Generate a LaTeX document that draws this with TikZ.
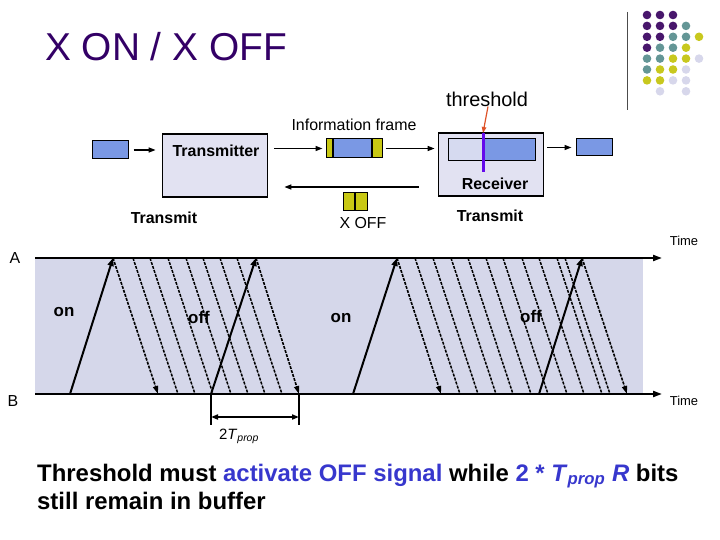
\documentclass[tikz,border=0pt]{standalone}
\usepackage{fontspec}
\setmainfont{Liberation Sans}
\usetikzlibrary{arrows.meta, positioning, calc}
\definecolor{titlepurple}{RGB}{51, 0, 102}
\definecolor{pktblue}{RGB}{122, 152, 228}
\definecolor{boxfill}{RGB}{226, 226, 242}
\definecolor{buflight}{RGB}{214, 218, 240}
\definecolor{ctrlyellow}{RGB}{200, 200, 20}
\definecolor{thrviolet}{RGB}{100, 10, 235}
\definecolor{thrred}{RGB}{222, 82, 40}
\definecolor{lineshade}{RGB}{213, 215, 234}
\definecolor{noteblue}{RGB}{55, 55, 205}
\definecolor{dotP}{RGB}{72, 22, 108}
\definecolor{dotT}{RGB}{100, 150, 150}
\definecolor{dotY}{RGB}{200, 200, 30}
\definecolor{dotL}{RGB}{215, 215, 235}
\newcommand{\fsz}[1]{\fontsize{#1}{#1}\selectfont}

\begin{document}
\begin{tikzpicture}[x=1bp, y=-1bp,
  box/.style={draw, line width=1.8bp, fill=boxfill, minimum width=105bp, minimum height=63bp, inner sep=0},
  pkt/.style={draw, line width=1bp, fill=pktblue, inner sep=0},
  ctrl/.style={draw, line width=1bp, fill=ctrlyellow, inner sep=0, minimum width=11.5bp, minimum height=18bp},
  flow/.style={line width=1.4bp, -{Triangle[length=7bp,width=5bp]}},
  lab/.style={font=\fsz{16}\bfseries, inner sep=0},
  txt/.style={font=\fsz{16}, inner sep=0},
  axis/.style={line width=2bp, -{Triangle[length=9bp,width=6bp]}},
  sig/.style={line width=2bp, -{Triangle[length=8bp,width=6bp]}},
  ack/.style={line width=1.6bp, dash pattern=on 3bp off 1.2bp, -{Triangle[length=8bp,width=5bp]}},
  dat/.style={line width=1.5bp, dash pattern=on 3bp off 1.2bp},
  state/.style={font=\fsz{17}\bfseries, inner sep=0}]
  \useasboundingbox (0,0) rectangle (720,540);

  % title and logo
  \node[anchor=base west, font=\fsz{39}, text=titlepurple, inner sep=0] (title) at (45,61) {X ON / X OFF};
  \draw[line width=1bp, black!70] (627,12) -- (627,110);
  \foreach \dotrow [count=\r from 0] in {{dotP,dotP,dotP,none,none},{dotP,dotP,dotP,dotT,none},{dotP,dotP,dotT,dotT,dotY},{dotP,dotT,dotT,dotY,none},{dotT,dotT,dotY,dotY,dotL},{dotT,dotY,dotY,dotL,none},{dotY,dotY,dotL,dotL,none},{none,dotL,none,dotL,none}}
    \foreach \c [count=\k from 0] in \dotrow
      \fill[fill=\c] ({647+13*\k},{15+10.9*\r}) circle[radius=4.3bp];

  % block diagram
  \node[pkt, minimum width=36bp, minimum height=18bp] (src) at (110,150) {};
  \node[box] (tx) at (215,165.5) {};
  \node[lab] (txlab) at ($(tx.north)+(1,18)$) {Transmitter};
  \node[pkt, minimum width=56bp, minimum height=19bp,
    path picture={
      \fill[ctrlyellow] (path picture bounding box.north west) rectangle ([xshift=7bp]path picture bounding box.south west);
      \fill[ctrlyellow] ([xshift=-10bp]path picture bounding box.north east) rectangle (path picture bounding box.south east);
      \draw[line width=2bp] ([xshift=7bp]path picture bounding box.north west) -- ([xshift=7bp]path picture bounding box.south west);
      \draw[line width=2bp] ([xshift=-10bp]path picture bounding box.north east) -- ([xshift=-10bp]path picture bounding box.south east);
    }] (frame) at (354,148.5) {};
  \node[txt, above=8bp of frame] (framelab) {Information frame};
  \node[box] (rx) at (491,164.5) {};
  \node[pkt, minimum width=87bp, minimum height=22bp,
    path picture={
      \fill[buflight] (path picture bounding box.north west) rectangle ([xshift=35bp]path picture bounding box.south west);
    }] (buf) at (491.5,150) {};
  \coordinate (thr) at (483,133);
  \draw[line width=3bp, thrviolet] (thr) -- ++(0,39);
  \node[font=\fsz{20}, inner sep=0] (thrlab) at (487,99) {threshold};
  \draw[thrred, line width=1.2bp, -{Triangle[length=6bp,width=4.5bp]}] ([xshift=1bp]thrlab.south) -- (thr);
  \node[lab] (rxlab) at ($(rx.south)+(4,-13)$) {Receiver};
  \node[pkt, minimum width=36bp, minimum height=17bp] (sink) at (594,147.5) {};

  \draw[flow, shorten <=5bp, shorten >=6bp] (src.east) -- (src.east -| tx.west);
  \draw[flow, shorten <=6bp, shorten >=3bp] (tx.east |- frame.west) -- (frame.west);
  \draw[flow, shorten <=3bp, shorten >=3bp] (frame.east) -- (frame.east -| rx.west);
  \draw[flow, shorten <=3bp, shorten >=4bp] (rx.east |- sink.west) -- (sink.west);
  \draw[flow] ($(rx.west)+(-19,22.5)$) -- ($(tx.east)+(16,21.5)$);

  \node[ctrl] (xoffa) at (349,202) {};
  \node[ctrl, right=0pt of xoffa] (xoffb) {};
  \node[txt] (xofflab) at (363,223) {X OFF};
  \node[lab] (txsend) at (164,218) {Transmit};
  \node[lab] (rxsend) at (490,216) {Transmit};

  % timing diagram
  \fill[lineshade] (35,258) rectangle (643,394);
  \coordinate (A0) at (35,258);
  \coordinate (A1) at (662,258);
  \coordinate (B0) at (35,394);
  \coordinate (B1) at (662,394);
  \draw[axis] (A0) -- (A1);
  \draw[axis] (B0) -- (B1);
  \node[txt] (alab) at (15,258.5) {A};
  \node[txt] (blab) at (13,401) {B};
  \node[font=\fsz{13}, inner sep=0] (timea) at (684,241) {Time};
  \node[font=\fsz{13}, inner sep=0] (timeb) at (684,401) {Time};

  \foreach \t in {133,150,168,186,203,220,237,415,433,451,468,486,503,522,539,557,565}
    \draw[dat] (\t,258) -- ++(45,136);
  \foreach \u/\v in {70/113, 211/256, 353/397, 539/582}
    \draw[sig] (\u,394) -- (\v,258);
  \foreach \u/\v in {113/158, 256/299, 397/441, 582/627}
    \draw[ack] (\u,258) -- (\v,394);

  \node[state] (on1) at (64,312) {on};
  \node[state] (off1) at (199,317) {off};
  \node[state] (on2) at (341,318) {on};
  \node[state] (off2) at (531,316) {off};

  % 2 Tprop
  \coordinate (tp1) at (211,394);
  \coordinate (tp2) at (299,394);
  \draw[line width=1.5bp] (tp1) -- ++(0,31);
  \draw[line width=1.5bp] (tp2) -- ++(0,31);
  \draw[line width=1.8bp, {Triangle[length=7bp,width=5bp]}-{Triangle[length=7bp,width=5bp]}] ($(tp1)+(0,23)$) -- ($(tp2)+(0,23)$);
  \node[font=\fsz{15}, inner sep=0] (tplab) at (239,436) {2\textit{T}\textsubscript{\itshape prop}};

  % note
  \node[anchor=north west, align=left, font=\fontsize{24}{29}\selectfont\bfseries, inner sep=0] (note) at (37,463.5)
    {Threshold must \textcolor{noteblue}{activate OFF signal} while \textcolor{noteblue}{2 * \textit{T}\textsubscript{\itshape prop} \textit{R}} bits\\still remain in buffer};
\end{tikzpicture}
\end{document}
